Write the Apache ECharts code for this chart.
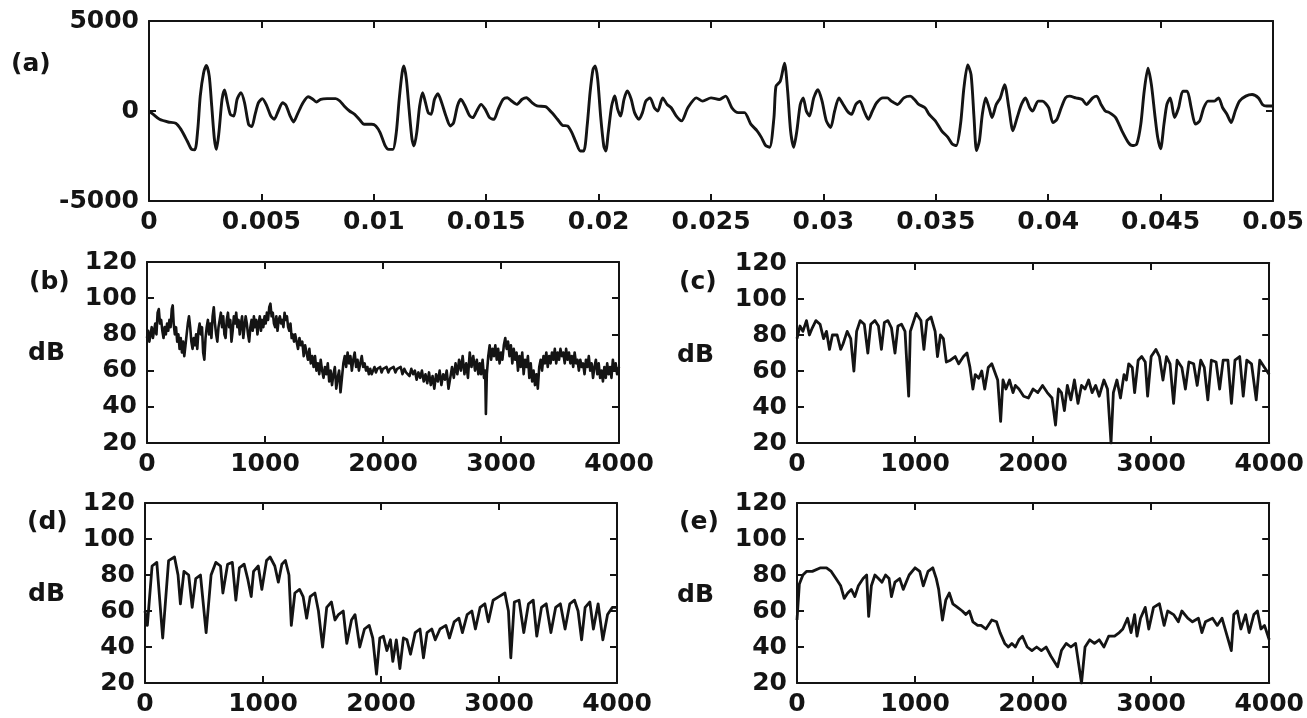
<!DOCTYPE html>
<html>
<head>
<meta charset="utf-8">
<script src="https://cdn.jsdelivr.net/npm/echarts@6/dist/echarts.min.js"></script>
<style>
html,body{margin:0;padding:0;background:#fff;}
#chart{width:1307px;height:718px;}
</style>
</head>
<body>
<div id="chart"></div>
<script>
// ---------- DATA ----------
// (a) time waveform: time in ms, amplitude
const waveTimeMs = [0,0.19,0.47,0.85,1.19,1.42,1.70,1.89,2.04,2.17,2.28,2.43,2.55,2.68,2.79,2.91,3.00,3.11,3.25,3.36,3.49,3.62,3.77,3.92,4.09,4.25,4.43,4.57,4.72,4.87,5.04,5.23,5.42,5.57,5.75,5.94,6.09,6.28,6.43,6.60,6.85,7.08,7.26,7.45,7.64,7.92,8.30,8.49,8.68,8.92,9.15,9.38,9.57,9.91,10.09,10.28,10.51,10.66,10.85,11.00,11.13,11.26,11.34,11.45,11.57,11.70,11.79,11.91,12.04,12.17,12.30,12.42,12.55,12.70,12.85,13.02,13.21,13.40,13.55,13.72,13.87,14.06,14.25,14.40,14.58,14.77,14.96,15.15,15.34,15.53,15.75,15.94,16.13,16.36,16.60,16.79,17.04,17.26,17.64,17.92,18.17,18.40,18.62,18.81,19.00,19.19,19.34,19.49,19.62,19.75,19.85,19.96,20.09,20.23,20.32,20.43,20.58,20.72,20.85,20.98,21.13,21.28,21.45,21.60,21.79,21.95,22.10,22.29,22.48,22.63,22.85,23.05,23.23,23.45,23.69,23.97,24.35,24.63,25.00,25.37,25.65,25.93,26.21,26.49,26.77,27.05,27.24,27.43,27.61,27.80,27.89,28.08,28.27,28.41,28.54,28.68,28.82,28.97,29.10,29.24,29.38,29.57,29.76,29.94,30.13,30.32,30.50,30.69,30.88,31.06,31.25,31.44,31.62,31.81,32.00,32.18,32.37,32.65,32.84,33.02,33.30,33.58,33.86,34.05,34.24,34.52,34.70,34.98,35.26,35.54,35.73,35.91,36.10,36.25,36.42,36.57,36.70,36.81,36.94,37.07,37.22,37.37,37.50,37.69,37.87,38.06,38.25,38.43,38.62,38.81,38.99,39.18,39.31,39.55,39.74,40.02,40.21,40.39,40.58,40.77,40.95,41.23,41.51,41.70,41.98,42.16,42.35,42.54,42.72,43.00,43.28,43.56,43.75,43.94,44.12,44.27,44.44,44.59,44.74,44.87,45.00,45.15,45.28,45.43,45.62,45.80,45.99,46.18,46.36,46.55,46.74,46.92,47.11,47.39,47.58,47.76,47.95,48.14,48.32,48.51,48.79,49.07,49.35,49.53,49.72,50.00];
const waveAmp = [0,-185,-460,-610,-680,-1020,-1665,-2130,-2160,-1020,830,2130,2530,1940,280,-1570,-2130,-1200,650,1165,460,-185,-280,650,1020,460,-740,-870,-185,460,685,315,-280,-460,0,460,315,-280,-610,-185,460,795,685,500,650,685,685,555,280,0,-185,-500,-740,-740,-830,-1200,-1940,-2130,-2130,-1200,650,2130,2500,1760,90,-1570,-1940,-1200,280,1020,460,-90,-185,650,960,460,-280,-830,-650,280,650,280,-240,-370,0,370,90,-370,-460,90,650,740,555,370,650,740,460,280,240,-90,-460,-800,-830,-1200,-1760,-2220,-2220,-830,1020,2310,2500,1760,-280,-1940,-2220,-1200,280,830,90,-280,650,1110,650,-90,-460,-90,550,730,180,0,730,365,180,-275,-550,180,730,550,730,640,825,180,-90,-90,-730,-1100,-1465,-1920,-2010,-365,1370,1650,2650,1100,-1100,-2010,-1100,365,730,0,-275,730,1190,550,-550,-915,0,730,365,0,-180,365,550,0,-460,0,460,730,730,550,365,730,825,640,365,180,-180,-550,-1100,-1465,-1830,-1920,-730,1280,2560,2010,-365,-2200,-1650,-180,730,180,-365,365,730,1465,180,-1100,-365,365,730,180,0,550,550,180,-640,-460,180,730,825,730,640,365,730,825,365,0,-90,-365,-1100,-1740,-1920,-1830,-730,1100,2380,1465,-180,-1465,-2100,-730,365,730,-365,180,1100,1100,180,-730,-550,180,550,550,730,180,-180,-640,0,550,825,915,730,365,275,275];

// (b) spectrum: [frequency Hz, dB]
const bSpectrum = [[0,78],[10,82],[20,76],[30,80],[40,84],[50,78],[60,82],[70,86],[80,80],[90,92],[100,94],[110,86],[120,88],[130,82],[140,78],[150,84],[160,80],[170,86],[180,82],[190,88],[200,84],[210,94],[218,96],[226,86],[236,80],[246,84],[256,76],[266,80],[276,72],[286,78],[296,70],[306,76],[316,68],[326,74],[336,80],[346,86],[356,90],[366,84],[376,76],[386,72],[396,78],[406,74],[416,80],[426,72],[436,82],[446,86],[456,80],[466,84],[476,70],[486,66],[496,78],[506,84],[516,88],[526,80],[536,86],[546,78],[556,90],[566,95],[576,86],[586,80],[596,76],[606,84],[616,88],[626,92],[636,84],[646,90],[656,80],[666,78],[676,88],[686,92],[696,84],[706,88],[716,76],[726,82],[736,90],[746,86],[756,92],[766,84],[776,88],[786,80],[796,86],[806,90],[816,78],[826,84],[836,90],[846,86],[856,80],[866,76],[876,84],[886,88],[896,82],[906,90],[916,84],[926,88],[936,80],[946,86],[956,90],[966,82],[976,88],[986,84],[996,90],[1006,86],[1016,92],[1026,88],[1036,95],[1046,97],[1056,90],[1066,92],[1076,86],[1086,84],[1096,90],[1106,82],[1116,88],[1126,90],[1136,86],[1146,88],[1156,84],[1166,92],[1176,88],[1186,90],[1196,84],[1206,82],[1216,86],[1226,78],[1236,80],[1246,76],[1256,80],[1268,80],[1280,72],[1292,78],[1304,74],[1316,76],[1328,68],[1340,74],[1352,70],[1364,66],[1376,72],[1388,64],[1400,68],[1412,62],[1424,68],[1436,60],[1448,64],[1460,58],[1472,66],[1484,60],[1496,56],[1508,62],[1520,58],[1532,64],[1544,54],[1556,60],[1568,52],[1580,58],[1592,62],[1604,50],[1616,56],[1628,60],[1640,48],[1652,56],[1664,64],[1676,68],[1688,62],[1700,70],[1712,64],[1724,68],[1736,60],[1748,66],[1760,70],[1772,62],[1784,66],[1796,60],[1808,64],[1820,68],[1832,62],[1844,64],[1856,60],[1868,62],[1880,58],[1892,61],[1904,58],[1916,60],[1928,62],[1940,59],[1952,61],[1964,60],[1976,62],[1988,59],[2000,61],[2015,60],[2030,62],[2045,59],[2060,61],[2075,60],[2090,62],[2105,59],[2120,61],[2135,60],[2150,62],[2165,58],[2180,61],[2195,59],[2210,60],[2225,57],[2240,61],[2255,58],[2270,60],[2285,55],[2300,59],[2315,56],[2330,60],[2345,54],[2360,58],[2375,53],[2390,59],[2405,52],[2420,57],[2435,50],[2450,58],[2465,54],[2480,60],[2495,52],[2510,58],[2525,55],[2540,60],[2555,50],[2570,56],[2585,62],[2600,56],[2615,64],[2630,58],[2645,66],[2660,60],[2675,68],[2690,58],[2705,64],[2720,56],[2735,70],[2750,62],[2765,68],[2780,60],[2795,66],[2808,58],[2820,64],[2832,58],[2844,66],[2856,56],[2866,60],[2872,36],[2880,58],[2892,68],[2904,74],[2916,66],[2928,72],[2940,68],[2952,74],[2964,66],[2976,72],[2988,64],[3000,70],[3012,66],[3024,74],[3036,78],[3048,72],[3060,76],[3072,68],[3084,74],[3096,64],[3108,72],[3120,66],[3132,70],[3144,60],[3156,68],[3168,62],[3180,70],[3192,58],[3204,66],[3216,62],[3228,68],[3240,56],[3252,64],[3264,54],[3276,60],[3288,52],[3300,58],[3312,50],[3324,62],[3336,66],[3348,60],[3360,68],[3372,64],[3384,70],[3396,62],[3408,68],[3420,64],[3432,70],[3444,66],[3456,72],[3468,64],[3480,70],[3492,66],[3504,72],[3516,68],[3528,70],[3540,64],[3552,72],[3564,66],[3576,70],[3588,64],[3600,68],[3612,62],[3624,70],[3636,64],[3648,66],[3660,60],[3672,66],[3684,62],[3696,64],[3708,58],[3720,66],[3732,62],[3744,68],[3756,60],[3768,64],[3780,56],[3792,62],[3804,66],[3816,58],[3828,64],[3840,56],[3852,60],[3864,54],[3876,62],[3888,56],[3900,64],[3912,58],[3924,62],[3936,56],[3948,66],[3960,60],[3972,64],[3984,58],[4000,62]];

// (c) spectrum
const cFreq = [0,25,50,80,105,130,160,195,225,250,275,300,340,370,390,425,455,482,505,535,570,600,625,660,690,715,740,770,800,830,855,885,915,946,960,1010,1050,1075,1100,1135,1170,1190,1215,1240,1265,1300,1340,1370,1410,1440,1465,1490,1510,1540,1565,1590,1620,1650,1700,1725,1745,1770,1800,1830,1850,1880,1920,1960,2000,2040,2080,2120,2160,2190,2215,2240,2265,2290,2320,2350,2380,2410,2440,2470,2500,2530,2560,2600,2630,2660,2680,2710,2740,2770,2790,2810,2840,2860,2890,2920,2950,2970,3000,3040,3070,3100,3130,3160,3190,3220,3260,3290,3320,3360,3390,3420,3450,3480,3510,3550,3580,3610,3650,3680,3710,3750,3780,3810,3850,3890,3920,3960,4000];
const cDb = [78,85,82,88,80,84,88,86,78,82,72,80,80,72,75,82,78,60,82,88,86,70,86,88,85,72,87,88,84,70,85,86,82,46,82,92,88,72,88,90,82,68,80,78,65,66,68,64,68,70,62,50,58,56,60,50,62,64,55,32,55,50,55,48,52,50,46,45,50,48,52,48,45,30,50,48,38,52,44,55,42,52,50,55,48,52,46,55,50,20,48,55,45,58,55,64,62,48,66,68,65,46,68,72,68,55,68,64,42,66,62,50,65,64,52,66,62,44,66,65,50,66,66,42,66,68,46,66,64,44,66,62,58];

// (d) spectrum
const dFreq = [0,20,60,100,150,200,250,280,300,330,370,400,430,470,518,560,600,640,660,700,740,770,800,840,870,900,920,960,990,1030,1060,1100,1130,1160,1190,1220,1240,1270,1310,1340,1370,1400,1440,1470,1505,1540,1580,1610,1640,1680,1710,1750,1780,1820,1860,1900,1930,1962,1990,2020,2050,2080,2100,2130,2160,2190,2220,2250,2290,2330,2360,2390,2430,2460,2500,2550,2580,2620,2660,2690,2730,2770,2800,2840,2880,2910,2950,3000,3050,3080,3100,3130,3170,3210,3250,3290,3320,3360,3400,3440,3480,3520,3560,3600,3640,3670,3700,3730,3770,3800,3840,3880,3920,3960,4000];
const dDb = [60,52,85,87,45,88,90,80,64,82,80,62,78,80,48,80,87,85,70,86,87,66,84,86,78,68,82,85,72,88,90,85,76,86,88,80,52,70,72,68,56,68,70,60,40,62,65,55,58,60,42,55,58,40,50,52,45,25,45,46,38,44,32,44,28,45,44,36,48,50,34,48,50,44,50,52,45,54,56,48,58,60,50,62,64,54,66,68,70,60,34,65,66,48,64,66,46,62,64,48,62,64,50,64,66,60,44,62,65,50,64,44,58,62,62];

// (e) spectrum
const eFreq = [0,20,50,80,130,200,250,290,330,370,400,430,460,490,520,560,590,607,630,660,690,720,750,780,800,830,870,900,950,1000,1040,1070,1110,1150,1180,1200,1232,1260,1290,1320,1360,1400,1430,1460,1490,1530,1560,1600,1650,1690,1720,1760,1790,1820,1850,1880,1910,1950,1990,2030,2070,2110,2150,2207,2240,2280,2320,2360,2410,2440,2480,2520,2560,2600,2640,2690,2730,2760,2800,2830,2860,2880,2910,2950,2980,3020,3070,3110,3140,3190,3230,3260,3310,3350,3400,3430,3460,3520,3560,3600,3679,3700,3730,3760,3800,3830,3870,3900,3930,3960,4000];
const eDb = [55,75,80,82,82,84,84,82,78,74,67,70,72,68,74,78,80,57,74,80,78,76,80,78,68,76,78,72,80,84,82,74,82,84,78,72,55,66,70,64,62,60,58,60,54,52,52,50,55,54,48,42,40,42,40,44,46,40,38,40,38,40,35,29,38,42,40,42,20,40,44,42,44,40,46,46,48,50,56,48,58,46,56,62,50,62,64,52,60,58,54,60,56,54,56,48,54,56,52,56,38,58,60,50,58,48,58,60,50,52,44];

const xTicksA = [0, 0.05, 0.005];     // min, max, interval
const yTicksA = [-5000, 5000, 5000];
const xTicksS = [0, 4000, 1000];
const yTicksS = [20, 120, 20];

// ---------- CHART ----------
const FONT = 'DejaVu Sans';
const INK = '#141414';
const chart = echarts.init(document.getElementById('chart'), null, {renderer: 'canvas'});

const grids = [
  {left: 149, top: 21, width: 1124, height: 180},
  {left: 147, top: 262, width: 472, height: 181},
  {left: 797, top: 263, width: 474, height: 180},
  {left: 145, top: 503, width: 472, height: 180},
  {left: 797, top: 503, width: 474, height: 180}
];

const plain = v => String(+Number(v).toFixed(4));

const xAxes = [], yAxes = [];
grids.forEach((g, i) => {
  const xt = i === 0 ? xTicksA : xTicksS;
  const yt = i === 0 ? yTicksA : yTicksS;
  const common = {
    type: 'value', gridIndex: i,
    axisLine: {show: true, onZero: false, lineStyle: {color: INK, width: 2}},
    axisTick: {show: true, inside: true, length: 7, lineStyle: {color: INK, width: 2}},
    splitLine: {show: false}
  };
  const lab = {show: true, color: INK, fontFamily: FONT, fontSize: 25, fontWeight: 'bold',
               showMinLabel: true, showMaxLabel: true, formatter: plain};
  xAxes.push(Object.assign({}, common, {
    position: 'bottom', min: xt[0], max: xt[1], interval: xt[2],
    axisLabel: Object.assign({margin: 9}, lab)
  }));
  xAxes.push(Object.assign({}, common, {
    position: 'top', min: xt[0], max: xt[1], interval: xt[2], axisLabel: {show: false}
  }));
  yAxes.push(Object.assign({}, common, {
    position: 'left', min: yt[0], max: yt[1], interval: yt[2],
    axisLabel: Object.assign({margin: 10}, lab)
  }));
  yAxes.push(Object.assign({}, common, {
    position: 'right', min: yt[0], max: yt[1], interval: yt[2], axisLabel: {show: false}
  }));
});

const lineSeries = (i, data, smooth, w) => ({
  type: 'line', xAxisIndex: i * 2, yAxisIndex: i * 2, data: data,
  showSymbol: false, symbol: 'none', animation: false, sampling: null, smooth: smooth,
  lineStyle: {color: INK, width: w, join: 'round'}, clip: true
});

const pairs = (xs, ys, scale) => xs.map((x, k) => [x * scale, ys[k]]);

const txt = (text, x, y) => ({
  type: 'text', left: x, top: y,
  style: {text: text, fill: INK, font: 'bold 25px "' + FONT + '"', textVerticalAlign: 'middle'}
});

chart.setOption({
  backgroundColor: '#ffffff',
  animation: false,
  grid: grids,
  xAxis: xAxes,
  yAxis: yAxes,
  series: [
    lineSeries(0, pairs(waveTimeMs, waveAmp, 0.001), 0.25, 2.9),
    lineSeries(1, bSpectrum, false, 2.6),
    lineSeries(2, pairs(cFreq, cDb, 1), false, 2.8),
    lineSeries(3, pairs(dFreq, dDb, 1), false, 2.8),
    lineSeries(4, pairs(eFreq, eDb, 1), false, 2.8)
  ],
  graphic: [
    txt('(a)', 11, 52),
    txt('(b)', 29, 270),
    txt('(c)', 679, 270),
    txt('(d)', 27, 510),
    txt('(e)', 679, 510),
    txt('dB', 28, 341),
    txt('dB', 677, 343),
    txt('dB', 28, 582),
    txt('dB', 677, 583)
  ]
});
</script>
</body>
</html>
